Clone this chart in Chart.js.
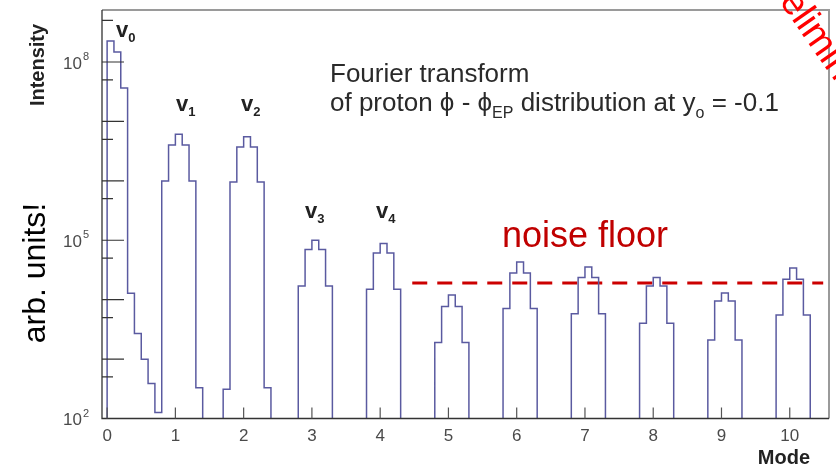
<!DOCTYPE html>
<html>
<head>
<meta charset="utf-8">
<script src="https://cdn.jsdelivr.net/npm/chart.js@4"></script>
<style>
  body { margin: 0; background: #fff; }
  canvas { display: block; }
</style>
</head>
<body>
<canvas id="fourierChart" width="836" height="468"></canvas>
<script>
// Fourier spectrum of the proton phi - phi_EP distribution, bins of 0.1 in mode number
const binWidth = 0.1;
const emptyBin = 1; // below the 10^2 floor of the plot
const binCounts = [
  2.26e8, 1.48e8, 3.65e7, 1.28e4, 2.7e3, 990, 390, 126, 9.9e5, 4.0e6,       // 0.0 - 0.9
  6.1e6, 4.0e6, 9.9e5, 330, 1, 1, 1, 310, 9.6e5, 3.7e6,                      // 1.0 - 1.9
  5.5e6, 3.7e6, 9.6e5, 330, 1, 1, 1, 50, 1.7e4, 7.0e4,                       // 2.0 - 2.9
  1.0e5, 7.0e4, 1.7e4, 50, 1, 1, 1, 50, 1.5e4, 6.1e4,                        // 3.0 - 3.9
  8.8e4, 6.1e4, 1.5e4, 50, 1, 1, 1, 30, 1.9e3, 7.7e3,                        // 4.0 - 4.9
  1.2e4, 7.7e3, 1.9e3, 30, 1, 1, 1, 30, 7.1e3, 2.8e4,                        // 5.0 - 5.9
  4.3e4, 2.8e4, 7.1e3, 30, 1, 1, 1, 30, 5.8e3, 2.35e4,                       // 6.0 - 6.9
  3.55e4, 2.35e4, 5.8e3, 30, 1, 1, 1, 30, 4.0e3, 1.7e4,                      // 7.0 - 7.9
  2.35e4, 1.7e4, 4.0e3, 30, 1, 1, 1, 30, 2.1e3, 9.5e3,                       // 8.0 - 8.9
  1.3e4, 9.5e3, 2.1e3, 30, 1, 1, 1, 30, 5.5e3, 2.2e4,                        // 9.0 - 9.9
  3.4e4, 2.2e4, 5.5e3, 30, 1                                                  // 10.0 - 10.4
];

// noise floor level and the mode range it is drawn over
const noiseLevel = 1.9e4;
const noiseRange = [4.47, 10.49];

// axis ticks
const modeTicks = [0, 1, 2, 3, 4, 5, 6, 7, 8, 9, 10];
const decadeTicks = [1e2, 1e3, 1e4, 1e5, 1e6, 1e7, 1e8];
const halfDecadeTicks = [5e2, 5e3, 5e4, 5e5, 5e6, 5e7, 5e8];
const labelledExponents = [2, 5, 8];

// step outline: rise at mode 0, one point per bin edge, close at the last edge
const histPoints = [{ x: 0, y: emptyBin }]
  .concat(binCounts.map((c, i) => ({ x: i * binWidth, y: c })))
  .concat([{ x: binCounts.length * binWidth, y: emptyBin }]);

const FONT = "'Liberation Sans', Arial, Helvetica, sans-serif";

// draw a run of text pieces, each with its own font and vertical shift
function drawRuns(ctx, x, y, runs, color) {
  ctx.fillStyle = color;
  ctx.textAlign = 'left';
  ctx.textBaseline = 'alphabetic';
  runs.forEach(r => {
    ctx.font = r.font;
    ctx.fillText(r.t, x, y + (r.dy || 0));
    x += ctx.measureText(r.t).width;
  });
}

const axesAndText = {
  id: 'axesAndText',
  afterDatasetsDraw(chart) {
    const { ctx, chartArea: a, scales: { x, y } } = chart;
    ctx.save();

    // frame: grey top/right, dark axes
    ctx.strokeStyle = '#9a9a9a';
    ctx.lineWidth = 2;
    ctx.beginPath();
    ctx.moveTo(a.left, a.top);
    ctx.lineTo(a.right, a.top);
    ctx.lineTo(a.right, a.bottom);
    ctx.stroke();
    ctx.strokeStyle = '#333';
    ctx.lineWidth = 1.3;
    ctx.beginPath();
    ctx.moveTo(a.left, a.top);
    ctx.lineTo(a.left, a.bottom);
    ctx.lineTo(a.right, a.bottom);
    ctx.stroke();

    // y ticks point into the frame
    ctx.lineWidth = 1.2;
    ctx.beginPath();
    decadeTicks.forEach(v => {
      const py = y.getPixelForValue(v);
      ctx.moveTo(a.left, py);
      ctx.lineTo(a.left + 22, py);
    });
    halfDecadeTicks.forEach(v => {
      const py = y.getPixelForValue(v);
      if (py < a.top) return;
      ctx.moveTo(a.left, py);
      ctx.lineTo(a.left + 11, py);
    });
    ctx.stroke();

    // x ticks
    ctx.strokeStyle = '#555';
    ctx.beginPath();
    modeTicks.forEach(m => {
      const px = x.getPixelForValue(m);
      ctx.moveTo(px, a.bottom);
      ctx.lineTo(px, a.bottom - 11);
    });
    ctx.stroke();

    // x tick labels
    ctx.fillStyle = '#4a4a4a';
    ctx.font = '17px ' + FONT;
    ctx.textAlign = 'center';
    ctx.textBaseline = 'top';
    modeTicks.forEach(m => ctx.fillText(String(m), x.getPixelForValue(m), a.bottom + 9));

    // y tick labels 10^n
    labelledExponents.forEach(e => {
      const py = y.getPixelForValue(Math.pow(10, e));
      ctx.fillStyle = '#4a4a4a';
      ctx.font = '17px ' + FONT;
      ctx.textAlign = 'right';
      ctx.textBaseline = 'middle';
      ctx.fillText('10', 82, py + 2);
      ctx.font = '11px ' + FONT;
      ctx.textAlign = 'left';
      ctx.fillText(String(e), 83, py - 5);
    });

    // axis titles
    ctx.fillStyle = '#222';
    ctx.font = 'bold 20px ' + FONT;
    ctx.textAlign = 'right';
    ctx.textBaseline = 'alphabetic';
    ctx.fillText('Mode', 810, 464);
    ctx.save();
    ctx.translate(44, 65);
    ctx.rotate(-Math.PI / 2);
    ctx.textAlign = 'center';
    ctx.fillText('Intensity', 0, 0);
    ctx.restore();

    ctx.save();
    ctx.translate(45, 273);
    ctx.rotate(-Math.PI / 2);
    ctx.fillStyle = '#000';
    ctx.font = '32px ' + FONT;
    ctx.textAlign = 'center';
    ctx.fillText('arb. units!', 0, 0);
    ctx.restore();

    // harmonic labels
    const vLabels = [['0', 116, 37], ['1', 176, 111], ['2', 241, 111], ['3', 305, 218], ['4', 376, 218]];
    vLabels.forEach(([n, px, py]) => {
      drawRuns(ctx, px, py, [
        { t: 'v', font: 'bold 22px ' + FONT },
        { t: n, font: 'bold 13px ' + FONT, dy: 5 }
      ], '#222');
    });

    // description
    drawRuns(ctx, 330, 82, [{ t: 'Fourier transform', font: '26px ' + FONT }], '#2a2a2a');
    drawRuns(ctx, 330, 111, [
      { t: 'of proton \u03D5 - \u03D5', font: '26px ' + FONT },
      { t: 'EP', font: '16px ' + FONT, dy: 7 },
      { t: ' distribution at y', font: '26px ' + FONT },
      { t: 'o', font: '16px ' + FONT, dy: 7 },
      { t: ' = -0.1', font: '26px ' + FONT }
    ], '#2a2a2a');

    drawRuns(ctx, 502, 247, [{ t: 'noise floor', font: '36px ' + FONT }], '#c00000');

    // stamp in the corner
    ctx.save();
    ctx.translate(757, -30);
    ctx.rotate(55 * Math.PI / 180);
    ctx.fillStyle = '#ff0000';
    ctx.font = '38px ' + FONT;
    ctx.textAlign = 'left';
    ctx.textBaseline = 'alphabetic';
    ctx.fillText('Preliminary', 0, 0);
    ctx.restore();

    ctx.restore();
  }
};

const chart = new Chart(document.getElementById('fourierChart'), {
  type: 'line',
  data: {
    datasets: [{
      label: 'Intensity',
      data: histPoints,
      borderColor: '#5a5aa0',
      borderWidth: 1.5,
      pointRadius: 0,
      stepped: 'before',
      fill: false
    }, {
      label: 'noise floor',
      data: noiseRange.map(m => ({ x: m, y: noiseLevel })),
      borderColor: '#cc0000',
      borderWidth: 3,
      borderDash: [15, 10],
      pointRadius: 0,
      fill: false
    }]
  },
  options: {
    responsive: false,
    animation: false,
    layout: {
      padding: { left: 102, right: 7, top: 10, bottom: 49.5 }
    },
    plugins: {
      legend: { display: false },
      tooltip: { enabled: false }
    },
    scales: {
      x: {
        type: 'linear',
        display: false,
        min: -0.075,
        max: 10.575
      },
      y: {
        type: 'logarithmic',
        display: false,
        min: 100,
        max: 7.5e8
      }
    }
  },
  plugins: [axesAndText]
});
</script>
</body>
</html>
